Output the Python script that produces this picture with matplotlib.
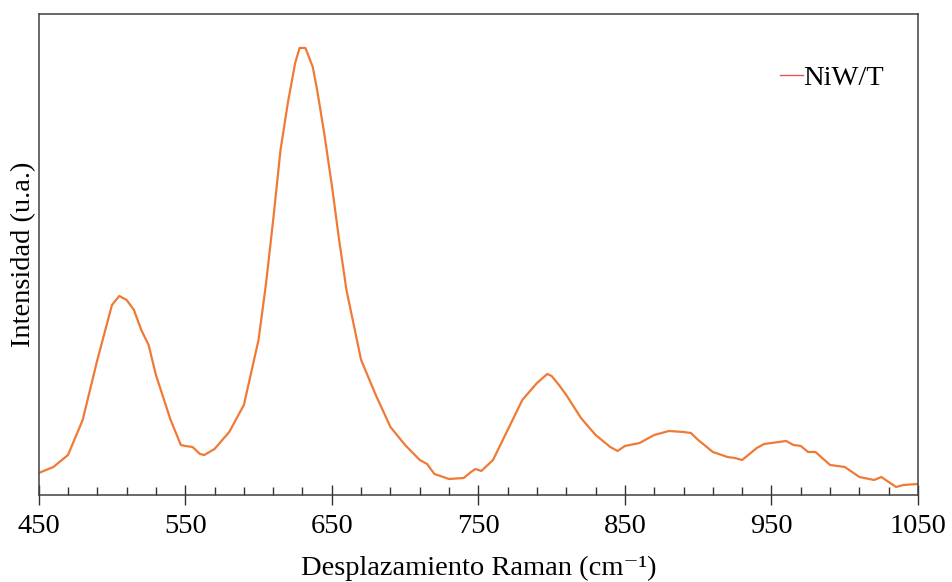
import matplotlib
matplotlib.use("Agg")
import matplotlib.pyplot as plt
from matplotlib.lines import Line2D
from matplotlib.ticker import FixedLocator
import numpy as np

# Raman shift (cm-1) and intensity (arbitrary units)
shift = [450, 460, 470, 480, 490, 500, 505, 510, 515, 520, 525, 530, 540, 547,
         550, 555, 560, 563, 570, 580, 590, 600, 605, 610, 615, 620, 625, 628,
         632, 637, 640, 645, 650, 655, 660, 670, 680, 690, 700, 710, 715, 720,
         730, 740, 745, 748, 752, 760, 770, 780, 790, 797, 800, 805, 810, 820,
         830, 840, 845, 850, 860, 870, 880, 890, 895, 900, 910, 920, 925, 930,
         940, 945, 950, 960, 965, 970, 975, 980, 990, 1000, 1010, 1020, 1025,
         1030, 1035, 1040, 1050]
intensity = [22, 28, 40, 75, 135, 190, 199, 195, 185, 165, 150, 120, 75, 50,
             49, 48, 41, 40, 46, 63, 90, 155, 210, 275, 345, 392, 432, 447,
             447, 428, 405, 360, 310, 255, 205, 135, 100, 68, 50, 35, 31, 21,
             16, 17, 23, 26, 24, 35, 65, 95, 112, 121, 119, 110, 100, 77,
             60, 48, 44, 49, 52, 60, 64, 63, 62, 55, 43, 38, 37, 35,
             47, 51, 52, 54, 50, 49, 43, 43, 30, 28, 18, 15, 18,
             13, 8, 10, 11]

plt.rcParams['font.family'] = ['Liberation Serif', 'DejaVu Serif']

fig = plt.figure(figsize=(9.53, 5.82), dpi=100)
ax = fig.add_axes([0.0406, 0.1495, 0.9227, 0.8265])

ax.plot(shift, intensity, color='#f07a35', lw=1.6)

ax.set_xlim(450, 1050)
ax.set_ylim(0, 481)
ax.xaxis.set_major_locator(FixedLocator(np.arange(450, 1051, 100)))
ax.xaxis.set_minor_locator(FixedLocator(np.arange(450, 1051, 20)))
ax.tick_params(axis='x', which='major', direction='inout', length=14, width=1,
               color='#333333', labelsize=20.5, pad=7)
ax.tick_params(axis='x', which='minor', direction='in', length=6, width=1,
               color='#333333')
ax.set_yticks([])
for s in ax.spines.values():
    s.set_color('#404040')
    s.set_linewidth(1.1)

ax.set_xlabel('Desplazamiento Raman (cm\u207b\u00b9)', fontsize=20.5, labelpad=12)
ax.set_ylabel('Intensidad (u.a.)', fontsize=20.5, labelpad=2)

handle = Line2D([], [], color='#e05a55', lw=1)
ax.legend([handle], ['NiW/T'], loc='center right', bbox_to_anchor=(0.99, 0.867),
          frameon=False, fontsize=20.5, handlelength=0.8, handletextpad=0.0)

fig.savefig('out.png', dpi=100)
